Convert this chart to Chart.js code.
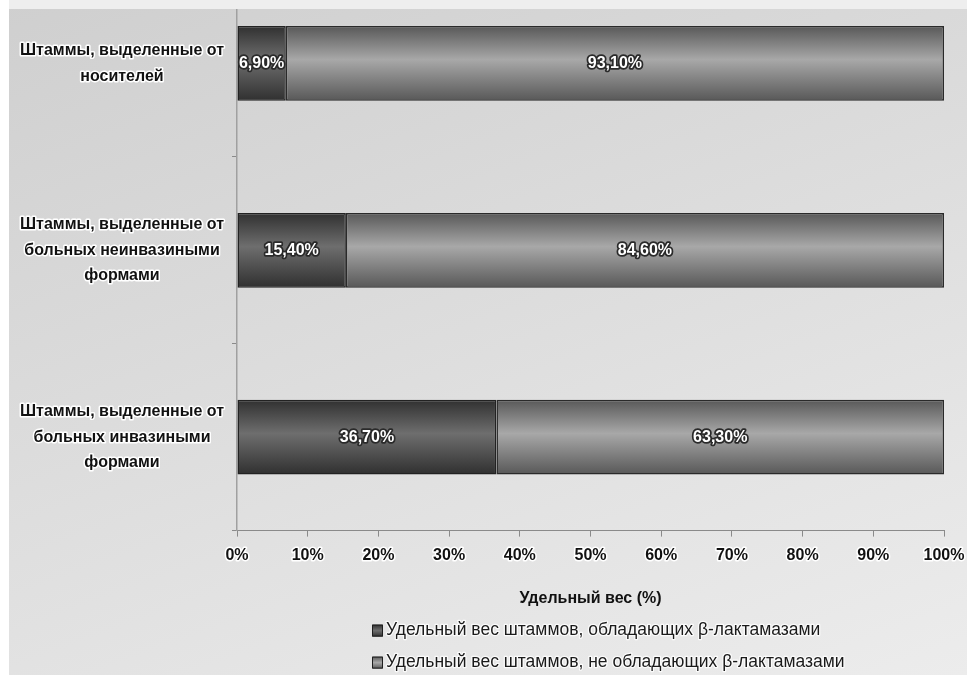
<!DOCTYPE html>
<html>
<head>
<meta charset="utf-8">
<script src="https://cdn.jsdelivr.net/npm/chart.js@4/dist/chart.umd.min.js"></script>
<style>
  html, body { margin: 0; padding: 0; }
  body {
    width: 967px; height: 675px; overflow: hidden; position: relative;
    background: linear-gradient(160deg, #cfcfcf 0%, #dcdcdc 45%, #ececec 100%);
  }
  #wrap { position: absolute; left: 0; top: -30px; width: 967px; height: 705px; }
  #topStrip { position: absolute; left: 0; top: 0; width: 967px; height: 9px; background: #eeeeee; }
  #leftStrip { position: absolute; left: 0; top: 0; width: 9px; height: 675px; background: #ffffff; }
</style>
</head>
<body>
<div id="wrap"><canvas id="barChart"></canvas></div>
<div id="topStrip"></div>
<div id="leftStrip"></div>
<script>
const categories = [
    ['Штаммы, выделенные от', 'носителей'],
    ['Штаммы, выделенные от', 'больных неинвазиными', 'формами'],
    ['Штаммы, выделенные от', 'больных инвазиными', 'формами']
];
const withBeta = [6.9, 15.4, 36.7];
const withoutBeta = [93.1, 84.6, 63.3];
const seriesNames = [
    'Удельный вес штаммов, обладающих β-лактамазами',
    'Удельный вес штаммов, не обладающих β-лактамазами'
];
const axisTitle = 'Удельный вес (%)';

const FONT = '"Liberation Sans", Arial, sans-serif';
const BAR_FRACTION = 0.4;
const darkStops = ['#303030', '#6e6e6e'];
const lightStops = ['#585858', '#a8a8a8'];

function barGradient(ctx, stops) {
    const chart = ctx.chart;
    const y = chart.scales.y;
    if (!y || ctx.dataIndex === undefined) return stops[1];
    const c = y.getPixelForValue(ctx.dataIndex);
    const half = y.height / categories.length * BAR_FRACTION / 2;
    if (!isFinite(c) || !isFinite(half) || half <= 0) return stops[1];
    const g = chart.ctx.createLinearGradient(0, c - half, 0, c + half);
    g.addColorStop(0, stops[0]);
    g.addColorStop(0.45, stops[1]);
    g.addColorStop(1, stops[0]);
    return g;
}

// round joins so the white halo on tick text has no spikes
const roundJoins = {
    id: 'roundJoins',
    beforeDraw(chart) {
        chart.ctx.lineJoin = 'round';
    }
};

// value labels in the middle of every segment
const valueLabels = {
    id: 'valueLabels',
    afterDatasetsDraw(chart) {
        const c = chart.ctx;
        c.save();
        c.font = 'bold 16px ' + FONT;
        c.textAlign = 'center';
        c.textBaseline = 'middle';
        c.lineJoin = 'round';
        c.lineWidth = 3.5;
        c.strokeStyle = '#2a2a2a';
        c.fillStyle = '#ffffff';
        chart.data.datasets.forEach((ds, i) => {
            chart.getDatasetMeta(i).data.forEach((bar, j) => {
                const txt = ds.data[j].toFixed(2).replace('.', ',') + '%';
                const x = (bar.x + bar.base) / 2;
                c.strokeText(txt, x, bar.y);
                c.fillText(txt, x, bar.y);
            });
        });
        c.restore();
    }
};

// legend as a left-aligned column under the axis title
const columnLegend = {
    id: 'columnLegend',
    afterDraw(chart) {
        const c = chart.ctx;
        const area = chart.chartArea;
        const x0 = area.left + 135;
        const rows = [area.bottom + 100, area.bottom + 132];
        const stops = [darkStops, lightStops];
        c.save();
        c.font = '17.5px ' + FONT;
        c.textBaseline = 'middle';
        c.textAlign = 'left';
        chart.data.datasets.forEach((ds, i) => {
            const y = rows[i];
            const g = c.createLinearGradient(0, y - 6, 0, y + 6);
            g.addColorStop(0, stops[i][0]);
            g.addColorStop(0.5, stops[i][1]);
            g.addColorStop(1, stops[i][0]);
            c.fillStyle = g;
            c.fillRect(x0, y - 6, 11, 12);
            c.strokeStyle = '#1e1e1e';
            c.lineWidth = 1;
            c.strokeRect(x0 + 0.5, y - 5.5, 10, 11);
            c.lineJoin = 'round';
            c.lineWidth = 2.5;
            c.strokeStyle = 'rgba(255,255,255,0.8)';
            c.strokeText(ds.label, x0 + 14, y);
            c.fillStyle = '#1a1a1a';
            c.fillText(ds.label, x0 + 14, y);
        });
        c.restore();
    }
};

const ctx = document.getElementById('barChart').getContext('2d');
new Chart(ctx, {
    type: 'bar',
    data: {
        labels: categories,
        datasets: [{
            label: seriesNames[0],
            data: withBeta,
            backgroundColor: (c) => barGradient(c, darkStops),
            borderColor: '#222222',
            borderWidth: 1.5,
            borderSkipped: false
        }, {
            label: seriesNames[1],
            data: withoutBeta,
            backgroundColor: (c) => barGradient(c, lightStops),
            borderColor: '#2a2a2a',
            borderWidth: 1.5,
            borderSkipped: false
        }]
    },
    options: {
        indexAxis: 'y',
        responsive: true,
        maintainAspectRatio: false,
        animation: false,
        datasets: {
            bar: { categoryPercentage: 0.8, barPercentage: BAR_FRACTION / 0.8 }
        },
        layout: { padding: { left: 9, right: 23, top: 0, bottom: 63 } },
        plugins: {
            legend: { display: false },
            tooltip: { enabled: false }
        },
        scales: {
            x: {
                stacked: true,
                min: 0,
                max: 100,
                afterFit: (scale) => {
                    scale.paddingLeft = 0;
                    scale.paddingRight = 0;
                },
                grid: { drawOnChartArea: false, drawTicks: true, tickLength: 6, color: '#8a8a8a' },
                border: { color: '#8a8a8a', width: 1 },
                ticks: {
                    stepSize: 10,
                    padding: 9.5,
                    color: '#111111',
                    textStrokeColor: '#ffffff',
                    textStrokeWidth: 3,
                    font: { family: FONT, size: 16, weight: 'bold' },
                    callback: (v) => v + '%'
                },
                title: {
                    display: true,
                    text: axisTitle,
                    color: '#111111',
                    font: { family: FONT, size: 16, weight: 'bold' },
                    padding: { top: 14, bottom: 4 }
                }
            },
            y: {
                stacked: true,
                afterFit: (scale) => {
                    scale.width = 228;
                    scale.paddingTop = 0;
                    scale.paddingBottom = 0;
                },
                grid: { offset: true, drawOnChartArea: false, drawTicks: true, tickLength: 5, color: '#8a8a8a' },
                border: { color: '#a0a0a0', width: 1.5 },
                ticks: {
                    crossAlign: 'center',
                    padding: 8,
                    color: '#111111',
                    textStrokeColor: '#ffffff',
                    textStrokeWidth: 3,
                    font: { family: FONT, size: 16, weight: 'bold', lineHeight: 1.6 }
                }
            }
        }
    },
    plugins: [roundJoins, valueLabels, columnLegend]
});
</script>
</body>
</html>
